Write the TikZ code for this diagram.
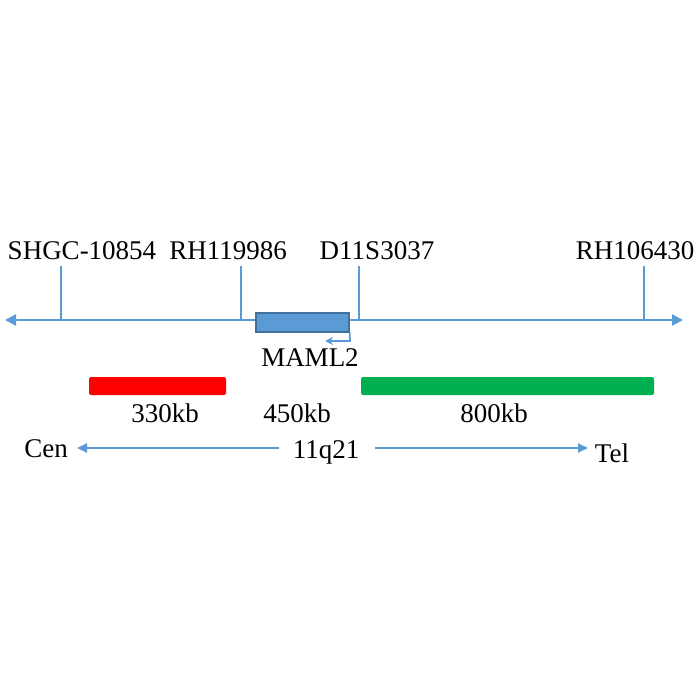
\documentclass[tikz,border=0pt]{standalone}
\usepackage{fontspec}
\setmainfont{Liberation Serif}
\usetikzlibrary{arrows.meta}
\definecolor{lblue}{HTML}{5B9BD5}
\definecolor{dblue}{HTML}{41719C}
\definecolor{gbar}{HTML}{00B050}
\tikzset{
  axis/.style={draw=lblue, line width=2.2pt},
  tickline/.style={draw=lblue, line width=1.3pt},
  lbl/.style={anchor=base, inner sep=0pt, font=\fontsize{27}{27}\selectfont},
  tipA/.style={-{Triangle[length=10pt,width=9pt]}},
}
\begin{document}
\begin{tikzpicture}[x=1pt,y=-1pt]
\useasboundingbox (0,0) rectangle (700,700);
% main axis
\coordinate (L) at (5,320);
\coordinate (R) at (683,320);
\draw[axis, {Triangle[length=11pt,width=11pt]}-{Triangle[length=11pt,width=11pt]}] (L) -- (R);
% ticks
\coordinate (t1) at (61,320); \coordinate (t1u) at (61,266);
\coordinate (t2) at (241,320); \coordinate (t2u) at (241,266);
\coordinate (t3) at (359,320); \coordinate (t3u) at (359,266);
\coordinate (t4) at (644,320); \coordinate (t4u) at (644,266);
\draw[tickline] (t1) -- (t1u);
\draw[tickline] (t2) -- (t2u);
\draw[tickline] (t3) -- (t3u);
\draw[tickline] (t4) -- (t4u);
% marker labels
\node[lbl] (m1) at (82,259) {SHGC-10854};
\node[lbl] (m2) at (228,259) {RH119986};
\node[lbl] (m3) at (377,259) {D11S3037};
\node[lbl] (m4) at (635,259) {RH106430};
% MAML2 gene box
\node[draw=dblue, fill=lblue, line width=1.2pt, minimum width=93pt, minimum height=19pt, inner sep=0pt] (gene) at (302.5,322.5) {};
\coordinate (g1) at (350,341);
\coordinate (g2) at (325,341);
\draw[draw=lblue, line width=1.8pt, -{Stealth[length=8pt,width=8pt]}] (gene.south east) -- (g1) -- (g2);
\node[lbl] (maml) at (310,366) {MAML2};
% bars
\node[fill=red, rounded corners=2pt, minimum width=137pt, minimum height=18pt, inner sep=0pt] (red) at (157.5,386) {};
\node[fill=gbar, rounded corners=2pt, minimum width=293pt, minimum height=18pt, inner sep=0pt] (green) at (507.5,386) {};
\node[lbl] (k330) at (165,422) {330kb};
\node[lbl] (k450) at (297,422) {450kb};
\node[lbl] (k800) at (494,422) {800kb};
% orientation
\node[lbl] (cen) at (46,457) {Cen};
\node[lbl] (q) at (326,458) {11q21};
\node[lbl] (tel) at (612,462) {Tel};
\coordinate (a1s) at (279,448); \coordinate (a1e) at (77,448);
\coordinate (a2s) at (375,448); \coordinate (a2e) at (588,448);
\draw[tickline, line width=1.8pt, tipA] (a1s) -- (a1e);
\draw[tickline, line width=1.8pt, tipA] (a2s) -- (a2e);
\end{tikzpicture}
\end{document}
